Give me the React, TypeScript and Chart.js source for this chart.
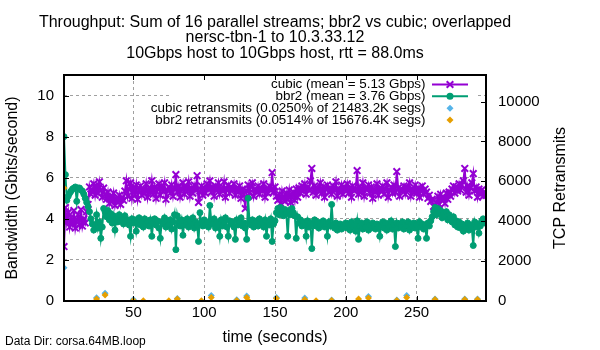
import { useEffect, useRef } from "react";
import { Chart, registerables } from "chart.js";

Chart.register(...registerables);

const FONT = "'Liberation Sans', Arial, Helvetica, sans-serif";

const titleLines = [
  "Throughput: Sum of 16 parallel streams; bbr2 vs cubic; overlapped",
  "nersc-tbn-1 to 10.3.33.12",
  "10Gbps host to 10Gbps host, rtt = 88.0ms",
];
const dataDirLabel = "Data Dir: corsa.64MB.loop";
const xAxisTitle = "time (seconds)";
const yAxisTitle = "Bandwidth (Gbits/second)";
const y2AxisTitle = "TCP Retransmits";

const legendLabels = [
  "cubic (mean = 5.13 Gbps)",
  "bbr2 (mean = 3.76 Gbps)",
  "cubic retransmits (0.0250% of 21483.2K segs)",
  "bbr2 retransmits (0.0514% of 15676.4K segs)",
];

const xTickValues = [50, 100, 150, 200, 250];
const yTickValues = [0, 2, 4, 6, 8, 10];
const y2TickValues = [0, 2000, 4000, 6000, 8000, 10000];

// throughput per second, t = 1..299 (Gbits/second)
const cubic = [
  2.65, 4.55, 3.85, 4.30, 3.60, 4.05, 3.75, 4.40, 3.55, 3.95, 4.20, 3.70, 4.45, 3.65, 4.00, 3.80, 4.35, 4.70, 5.55, 5.20,
  5.35, 5.70, 5.15, 5.60, 5.25, 5.80, 5.40, 5.05, 5.50, 5.20, 4.95, 5.30, 4.75, 5.10, 4.85, 5.25, 4.65, 5.00, 4.80, 5.15,
  4.70, 5.05, 4.90, 5.35, 5.85, 5.10, 5.45, 5.75, 5.00, 5.50, 5.20, 5.65, 4.95, 5.40, 5.60, 5.15, 5.45, 5.25, 5.70, 5.05,
  5.50, 5.30, 5.85, 5.20, 5.55, 5.00, 5.45, 5.70, 5.15, 5.60, 5.35, 5.75, 4.95, 5.40, 5.55, 5.25, 5.65, 5.10, 5.50, 6.15,
  5.30, 5.60, 5.05, 5.45, 5.75, 5.20, 5.55, 5.35, 5.80, 5.10, 5.50, 5.25, 5.65, 5.40, 6.10, 4.80, 5.35, 5.60, 5.15, 5.50,
  5.25, 5.70, 5.45, 5.85, 5.30, 5.55, 5.10, 5.60, 5.40, 5.75, 5.20, 5.50, 5.35, 5.80, 5.05, 5.45, 5.65, 5.25, 5.55, 5.40,
  5.70, 5.15, 5.50, 5.30, 5.60, 5.00, 5.45, 5.20, 4.50, 5.35, 5.65, 5.25, 5.55, 5.75, 5.10, 5.45, 5.30, 5.60, 5.20, 5.50,
  5.35, 5.70, 5.05, 5.45, 5.25, 5.60, 5.40, 6.25, 5.30, 5.55, 5.10, 4.90, 5.20, 4.75, 5.35, 5.00, 4.85, 5.25, 4.95, 5.40,
  4.80, 5.15, 5.30, 4.90, 5.45, 5.05, 5.50, 5.25, 5.60, 5.35, 5.70, 5.20, 5.55, 5.40, 5.85, 6.45, 5.30, 5.60, 5.15, 5.50,
  5.35, 5.75, 5.25, 5.55, 5.05, 5.45, 5.65, 5.30, 5.50, 5.20, 5.60, 5.40, 5.80, 5.10, 5.45, 5.30, 5.65, 5.20, 5.55, 5.35,
  5.70, 5.25, 5.50, 5.05, 5.60, 5.35, 5.45, 6.35, 5.20, 5.55, 5.30, 5.75, 5.10, 5.50, 5.40, 5.65, 5.25, 5.55, 5.00, 5.45,
  5.30, 5.70, 5.15, 5.50, 5.35, 5.60, 5.20, 5.45, 5.75, 5.05, 5.40, 5.55, 5.25, 5.65, 5.30, 6.30, 5.50, 5.10, 5.45, 5.35,
  5.60, 5.20, 5.55, 5.40, 5.75, 5.10, 5.45, 5.30, 5.65, 5.25, 5.50, 5.05, 5.40, 5.60, 5.20, 5.45, 5.30, 5.00, 5.15, 4.85,
  4.95, 4.60, 4.30, 4.80, 5.10, 4.70, 5.20, 4.90, 5.05, 4.75, 5.25, 4.95, 5.30, 5.10, 5.45, 5.60, 5.25, 5.55, 5.35, 5.70,
  5.40, 5.65, 5.85, 6.45, 5.30, 5.60, 5.15, 5.50, 5.75, 6.20, 5.35, 5.55, 5.05, 5.45, 5.20, 5.40, 5.10, 5.30, 5.15,
];

const bbr2 = [
  8.00, 6.15, 4.90, 5.10, 5.25, 5.35, 5.45, 5.50, 5.55, 4.85, 5.50, 5.50, 5.40, 5.35, 5.20, 5.00, 4.80, 4.60, 4.35, 4.00,
  3.75, 3.45, 3.70, 4.20, 3.55, 3.85, 3.05, 3.60, 4.50, 4.35, 4.10, 4.40, 3.95, 4.25, 3.80, 4.15, 3.45, 4.00, 3.85, 4.20,
  3.90, 4.05, 3.75, 4.15, 3.85, 3.95, 3.70, 3.15, 4.00, 3.80, 3.95, 3.40, 3.85, 4.05, 3.70, 3.90, 3.60, 4.00, 3.75, 3.85,
  3.65, 3.95, 3.15, 3.80, 4.00, 3.70, 3.90, 3.55, 3.05, 3.85, 3.75, 4.05, 3.60, 3.90, 3.70, 3.95, 3.50, 3.85, 4.20, 2.50,
  4.15, 3.80, 3.65, 3.95, 3.20, 3.85, 3.70, 4.00, 3.60, 3.90, 3.75, 4.05, 3.55, 3.85, 3.70, 2.90, 4.30, 3.80, 3.65, 3.95,
  3.70, 3.85, 3.60, 4.65, 3.90, 3.75, 4.00, 3.55, 3.85, 3.70, 3.15, 3.95, 3.65, 3.80, 4.05, 3.60, 3.15, 3.90, 3.75, 3.85,
  3.60, 3.00, 3.95, 3.70, 3.85, 4.05, 3.65, 3.80, 3.55, 3.00, 5.00, 3.85, 3.70, 3.95, 3.60, 3.80, 3.90, 3.65, 4.00, 3.75,
  3.85, 3.60, 3.95, 3.15, 3.80, 3.70, 4.00, 2.90, 3.75, 3.90, 4.30, 4.50, 4.20, 4.55, 4.35, 4.15, 4.45, 4.25, 3.15, 4.40,
  4.20, 4.50, 4.30, 4.15, 3.05, 4.10, 3.80, 3.95, 3.65, 3.85, 3.70, 3.15, 3.90, 3.60, 3.80, 2.55, 3.75, 3.95, 3.65, 3.85,
  3.55, 3.80, 3.70, 3.90, 3.60, 3.75, 3.15, 3.85, 3.65, 4.70, 3.70, 3.55, 3.80, 3.45, 3.65, 3.75, 3.50, 3.70, 3.60, 3.80,
  3.55, 3.75, 3.45, 3.85, 3.60, 3.70, 3.40, 3.90, 3.00, 3.65, 3.80, 3.50, 3.75, 3.60, 3.85, 3.45, 3.70, 3.55, 3.80, 3.65,
  3.50, 3.75, 3.60, 3.15, 3.70, 3.85, 3.55, 3.80, 3.45, 3.75, 3.60, 3.90, 3.50, 3.70, 2.65, 3.80, 3.55, 3.75, 3.60, 3.85,
  3.50, 3.70, 3.65, 3.85, 3.45, 3.75, 3.60, 3.80, 3.55, 3.70, 3.05, 3.85, 3.60, 3.75, 3.50, 3.70, 3.05, 3.80, 3.65, 3.90,
  4.10, 4.35, 4.55, 4.20, 4.50, 4.25, 4.40, 4.05, 4.30, 4.15, 4.35, 3.95, 4.20, 4.05, 3.85, 4.10, 3.70, 3.90, 3.60, 3.85,
  3.55, 3.75, 3.40, 3.65, 3.50, 3.80, 3.45, 3.70, 3.55, 2.70, 3.85, 3.60, 3.75, 3.30, 3.65, 3.90, 4.00, 3.80, 3.95,
];

// retransmits (right axis), only the seconds where they occurred
const cubicRetransTime = [1, 24, 30, 50, 81, 105, 123, 130, 151, 171, 190, 216, 236, 243, 263, 284, 293];
const cubicRetransCount = [1670, 165, 385, 80, 130, 270, 60, 250, 170, 150, 50, 220, 50, 270, 100, 100, 100];
const bbr2RetransTime = [1, 24, 30, 50, 57, 75, 81, 98, 105, 123, 130, 131, 151, 171, 179, 190, 209, 216, 236, 243, 263, 284, 293];
const bbr2RetransCount = [5665, 100, 300, 20, 10, 10, 100, 10, 180, 20, 170, 20, 130, 80, 10, 20, 100, 150, 20, 170, 80, 80, 80];

const xMin = 1;
const xMax = 299;
const yMax = 11;
const y2Max = 11330;

const PURPLE = "#9400d3";
const GREEN = "#009e73";
const BLUE = "#56b4e9";
const ORANGE = "#e69f00";
const GRID = "#a0a0a0";

const series = (vals: number[]) => vals.map((v, i) => ({ x: i + 1, y: v }));
const points = (ts: number[], vs: number[]) => ts.map((t, i) => ({ x: t, y: vs[i] }));
const setTicks = (vals: number[]) => (s: any) => {
  s.ticks = vals.map((v) => ({ value: v }));
};
const plain = (v: any) => String(v);

function drawMarker(ctx: CanvasRenderingContext2D, kind: string, x: number, y: number, color: string) {
  ctx.save();
  ctx.fillStyle = color;
  ctx.strokeStyle = color;
  if (kind === "x") {
    ctx.lineWidth = 2;
    const d = 3.3;
    ctx.beginPath();
    ctx.moveTo(x - d, y - d);
    ctx.lineTo(x + d, y + d);
    ctx.moveTo(x - d, y + d);
    ctx.lineTo(x + d, y - d);
    ctx.stroke();
  } else if (kind === "o") {
    ctx.beginPath();
    ctx.arc(x, y, 3.5, 0, Math.PI * 2);
    ctx.fill();
  } else {
    ctx.beginPath();
    ctx.moveTo(x, y - 3.5);
    ctx.lineTo(x + 3.5, y);
    ctx.lineTo(x, y + 3.5);
    ctx.lineTo(x - 3.5, y);
    ctx.closePath();
    ctx.fill();
  }
  ctx.restore();
}

const decoPlugin = {
  id: "deco",
  afterDatasetsDraw(chart: any) {
    const { ctx, chartArea: ca, scales } = chart;
    ctx.save();
    // opaque key box
    ctx.fillStyle = "#ffffff";
    ctx.fillRect(170, ca.top + 1, 305, 51);
    // key entries
    const rows = [84.5, 96.3, 108.2, 120.1];
    const kinds = ["x", "o", "d", "d"];
    const colors = [PURPLE, GREEN, BLUE, ORANGE];
    ctx.font = `13.4px ${FONT}`;
    ctx.textAlign = "right";
    ctx.textBaseline = "middle";
    legendLabels.forEach((lab, i) => {
      ctx.fillStyle = "#000";
      ctx.fillText(lab, 425.5, rows[i]);
      if (i < 2) {
        ctx.strokeStyle = colors[i];
        ctx.lineWidth = 2;
        ctx.beginPath();
        ctx.moveTo(432, rows[i]);
        ctx.lineTo(468, rows[i]);
        ctx.stroke();
      }
      drawMarker(ctx, kinds[i], 450, rows[i], colors[i]);
    });
    // ticks (inward)
    ctx.strokeStyle = "#000";
    ctx.lineWidth = 1;
    const tl = 5;
    scales.x.ticks.forEach((t: any) => {
      const px = Math.round(scales.x.getPixelForValue(t.value)) + 0.5;
      ctx.beginPath();
      ctx.moveTo(px, ca.bottom);
      ctx.lineTo(px, ca.bottom - tl);
      ctx.moveTo(px, ca.top);
      ctx.lineTo(px, ca.top + tl);
      ctx.stroke();
    });
    scales.y.ticks.forEach((t: any) => {
      const py = Math.round(scales.y.getPixelForValue(t.value)) + 0.5;
      ctx.beginPath();
      ctx.moveTo(ca.left, py);
      ctx.lineTo(ca.left + tl, py);
      ctx.stroke();
    });
    scales.y2.ticks.forEach((t: any) => {
      const py = Math.round(scales.y2.getPixelForValue(t.value)) + 0.5;
      ctx.beginPath();
      ctx.moveTo(ca.right, py);
      ctx.lineTo(ca.right - tl, py);
      ctx.stroke();
    });
    // border
    ctx.lineWidth = 2;
    ctx.strokeRect(ca.left, ca.top, ca.right - ca.left, ca.bottom - ca.top);
    ctx.restore();
  },
  afterDraw(chart: any) {
    const { ctx, chartArea: ca } = chart;
    ctx.save();
    ctx.fillStyle = "#000";
    // title
    ctx.font = `16px ${FONT}`;
    ctx.textAlign = "center";
    ctx.textBaseline = "alphabetic";
    const cx = (ca.left + ca.right) / 2;
    titleLines.forEach((l, i) => ctx.fillText(l, cx, 26.5 + i * 15.5));
    // right axis title (reads bottom to top)
    ctx.save();
    ctx.translate(561, (ca.top + ca.bottom) / 2);
    ctx.rotate(-Math.PI / 2);
    ctx.textBaseline = "middle";
    ctx.fillText(y2AxisTitle, 0, 0);
    ctx.restore();
    // data dir footnote
    ctx.font = `12px ${FONT}`;
    ctx.textAlign = "left";
    ctx.textBaseline = "alphabetic";
    ctx.fillText(dataDirLabel, 5, 345);
    ctx.restore();
  },
};

export default function App() {
  const ref = useRef<HTMLCanvasElement | null>(null);
  useEffect(() => {
    document.body.style.margin = "0";
    const canvas = ref.current;
    if (!canvas) return;
    const chart = new Chart(canvas, {
      type: "line",
      data: {
        datasets: [
          {
            label: legendLabels[0],
            data: series(cubic),
            yAxisID: "y",
            borderColor: PURPLE,
            backgroundColor: PURPLE,
            borderWidth: 2,
            pointStyle: "crossRot",
            pointRadius: 4.7,
            pointBorderWidth: 2,
            pointBorderColor: PURPLE,
            order: 4,
          },
          {
            label: legendLabels[1],
            data: series(bbr2),
            yAxisID: "y",
            borderColor: GREEN,
            backgroundColor: GREEN,
            borderWidth: 2,
            pointStyle: "circle",
            pointRadius: 3,
            pointBorderWidth: 1,
            pointBackgroundColor: GREEN,
            pointBorderColor: GREEN,
            order: 3,
          },
          {
            label: legendLabels[2],
            data: points(cubicRetransTime, cubicRetransCount),
            yAxisID: "y2",
            showLine: false,
            pointStyle: "rectRot",
            pointRadius: 3.5,
            pointBorderWidth: 0,
            pointBackgroundColor: BLUE,
            borderColor: BLUE,
            backgroundColor: BLUE,
            order: 2,
          },
          {
            label: legendLabels[3],
            data: points(bbr2RetransTime, bbr2RetransCount),
            yAxisID: "y2",
            showLine: false,
            pointStyle: "rectRot",
            pointRadius: 3.5,
            pointBorderWidth: 0,
            pointBackgroundColor: ORANGE,
            borderColor: ORANGE,
            backgroundColor: ORANGE,
            order: 1,
          },
        ],
      },
      options: {
        animation: false,
        responsive: false,
        devicePixelRatio: 1,
        layout: { padding: { top: 75, left: 0, right: 0, bottom: 0 } },
        plugins: {
          legend: { display: false },
          title: { display: false },
          tooltip: { enabled: false },
        },
        elements: { line: { tension: 0 } },
        scales: {
          x: {
            type: "linear",
            min: xMin,
            max: xMax,
            afterBuildTicks: setTicks(xTickValues),
            afterFit: (s: any) => {
              s.height = 49;
            },
            ticks: {
              color: "#000",
              font: { family: FONT, size: 15 },
              padding: 3,
              maxRotation: 0,
              autoSkip: false,
              callback: plain,
            },
            grid: { color: GRID, lineWidth: 1, drawTicks: false },
            border: { display: false, dash: [3, 3] },
            title: {
              display: true,
              text: xAxisTitle,
              color: "#000",
              font: { family: FONT, size: 16 },
              padding: { top: 0, bottom: 3 },
            },
          },
          y: {
            type: "linear",
            position: "left",
            min: 0,
            max: yMax,
            afterBuildTicks: setTicks(yTickValues),
            afterFit: (s: any) => {
              s.width = 64;
            },
            ticks: {
              color: "#000",
              font: { family: FONT, size: 15 },
              padding: 10,
              autoSkip: false,
              callback: plain,
            },
            grid: { color: GRID, lineWidth: 1, drawTicks: false },
            border: { display: false, dash: [3, 3] },
            title: {
              display: true,
              text: yAxisTitle,
              color: "#000",
              font: { family: FONT, size: 16 },
              padding: { top: 3, bottom: 0 },
            },
          },
          y2: {
            type: "linear",
            position: "right",
            min: 0,
            max: y2Max,
            afterBuildTicks: setTicks(y2TickValues),
            afterFit: (s: any) => {
              s.width = 114;
            },
            ticks: {
              color: "#000",
              font: { family: FONT, size: 15 },
              padding: 12,
              autoSkip: false,
              callback: plain,
            },
            grid: { display: false, drawTicks: false },
            border: { display: false },
          },
        },
      },
      plugins: [decoPlugin],
    } as any);
    return () => chart.destroy();
  }, []);
  return (
    <div style={{ width: 600, height: 350, background: "#fff" }}>
      <canvas ref={ref} width={600} height={350} style={{ display: "block" }} />
    </div>
  );
}
